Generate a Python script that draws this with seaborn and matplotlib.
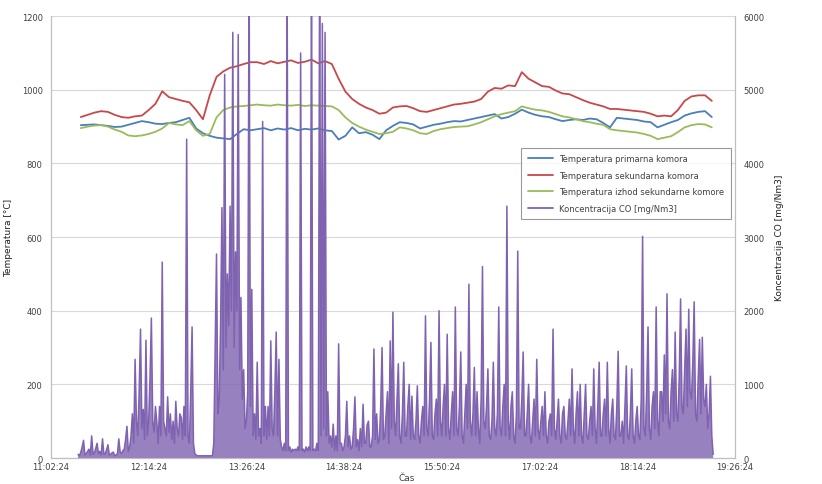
import numpy as np
import pandas as pd
import matplotlib
matplotlib.use("Agg")
import matplotlib.pyplot as plt
import seaborn as sns

# ---------------------------------------------------------------
# DATA

# x axis: minutes after 11:02:24
tick_minutes = [0, 72, 144, 216, 288, 360, 432, 504]
tick_labels = ['11:02:24', '12:14:24', '13:26:24', '14:38:24',
               '15:50:24', '17:02:24', '18:14:24', '19:26:24']

# temperatures sampled every 5 min starting at minute 22
temp_start, temp_step = 22, 5
t_primary = [904, 905, 906, 904, 902, 899, 900, 905, 910, 915,
             912, 908, 907, 910, 912, 918, 924, 895, 882, 875,
             870, 868, 866, 880, 893, 890, 893, 896, 890, 895,
             892, 896, 890, 894, 892, 895, 890, 888, 865, 875,
             898, 882, 885, 878, 866, 890, 902, 912, 910, 906,
             895, 900, 905, 908, 912, 915, 914, 918, 922, 926,
             930, 934, 922, 926, 935, 946, 938, 932, 928, 926,
             920, 915, 918, 920, 918, 922, 920, 910, 898, 924,
             922, 920, 918, 914, 912, 898, 905, 912, 918, 930,
             936, 940, 942, 926]
t_secondary = [926, 932, 938, 942, 940, 932, 926, 924, 928, 930,
               945, 962, 996, 980, 975, 970, 966, 945, 920, 985,
               1035, 1050, 1060, 1064, 1070, 1075, 1075, 1070, 1078, 1072,
               1076, 1080, 1073, 1076, 1082, 1072, 1078, 1070, 1030, 995,
               975, 962, 952, 945, 935, 938, 952, 955, 956, 950,
               942, 940, 945, 950, 955, 960, 962, 965, 968, 975,
               995, 1005, 1003, 1012, 1010, 1048, 1030, 1020, 1010, 1008,
               998, 990, 988, 980, 972, 965, 960, 955, 948, 948,
               946, 944, 942, 940, 935, 928, 930, 928, 945, 970,
               982, 985, 985, 970]
t_outlet = [896, 900, 903, 904, 900, 892, 886, 876, 874, 876,
            880, 886, 895, 910, 906, 904, 915, 890, 875, 880,
            925, 945, 952, 955, 956, 958, 960, 958, 957, 960,
            958, 957, 959, 956, 958, 957, 956, 955, 945, 925,
            910, 900, 892, 886, 880, 882, 886, 898, 895, 890,
            882, 880, 888, 893, 896, 899, 900, 901, 906, 912,
            920, 928, 934, 938, 942, 955, 950, 946, 944, 940,
            934, 928, 925, 920, 915, 912, 908, 905, 893, 890,
            888, 886, 884, 880, 875, 866, 870, 874, 885, 898,
            904, 907, 906, 898]

# CO concentration sampled every minute starting at minute 20
co_start, co_step = 20, 1
co = [50, 30, 80, 150, 240, 40, 60, 90, 120, 40,
      300, 50, 70, 130, 200, 60, 90, 40, 260, 50,
      60, 110, 180, 40, 50, 70, 80, 30, 40, 60,
      260, 80, 60, 100, 120, 250, 430, 90, 150, 300,
      600, 200, 1340, 500, 300, 900, 1750, 400, 660, 250,
      1600, 300, 500, 1100, 1900, 500, 350, 700, 490, 200,
      700, 300, 2660, 500, 400, 300, 830, 350, 600, 250,
      500, 200, 770, 400, 300, 600, 550, 250, 700, 300,
      4330, 300, 200, 900, 1780, 200, 60, 40, 30, 30,
      30, 30, 30, 30, 30, 30, 30, 30, 30, 30,
      200, 1500, 2770, 600, 800, 1800, 3400, 1200, 5210, 1500,
      2500, 1800, 3420, 2000, 5780, 1500, 2800, 2000, 5750, 1200,
      2180, 800, 1200, 400, 500, 900, 6800, 700, 2290, 300,
      600, 250, 1300, 300, 400, 200, 4570, 300, 700, 250,
      700, 300, 1590, 400, 300, 900, 1710, 300, 1340, 250,
      150, 100, 200, 100, 6800, 100, 150, 80, 120, 100,
      120, 100, 150, 100, 5500, 100, 120, 80, 150, 100,
      150, 100, 6800, 100, 120, 100, 200, 100, 6800, 300,
      5900, 400, 5780, 300, 900, 200, 300, 150, 460, 100,
      300, 100, 1550, 200, 200, 100, 150, 300, 770, 150,
      300, 120, 150, 400, 830, 150, 250, 100, 400, 150,
      730, 200, 200, 450, 500, 150, 150, 300, 1480, 250,
      600, 200, 250, 700, 1500, 250, 300, 600, 900, 200,
      1590, 400, 1980, 500, 300, 800, 1280, 300, 200, 600,
      1300, 300, 300, 700, 1000, 250, 840, 300, 250, 500,
      980, 300, 200, 500, 700, 300, 1930, 400, 300, 800,
      1570, 300, 250, 600, 800, 300, 2000, 500, 300, 700,
      1000, 300, 1680, 400, 250, 600, 900, 300, 2050, 400,
      300, 700, 1440, 300, 200, 600, 1000, 400, 2360, 500,
      300, 600, 1230, 300, 900, 400, 200, 800, 2600, 500,
      400, 700, 1210, 300, 250, 500, 1300, 400, 300, 600,
      2050, 400, 300, 700, 1000, 300, 3420, 500, 250, 700,
      900, 300, 200, 600, 2810, 400, 400, 800, 1440, 300,
      300, 600, 1000, 300, 200, 500, 800, 300, 1340, 400,
      250, 500, 700, 300, 900, 300, 200, 500, 600, 300,
      1750, 400, 250, 500, 800, 300, 200, 600, 700, 300,
      250, 500, 800, 300, 1210, 400, 200, 600, 900, 300,
      1000, 300, 200, 600, 1000, 300, 250, 500, 700, 300,
      1210, 400, 200, 700, 1300, 300, 300, 600, 800, 300,
      1300, 400, 200, 600, 800, 300, 250, 700, 1450, 300,
      300, 500, 200, 700, 1250, 300, 250, 600, 1210, 300,
      200, 500, 700, 300, 250, 800, 3010, 400, 300, 900,
      1780, 400, 250, 700, 900, 400, 2050, 500, 300, 900,
      900, 500, 1400, 600, 2230, 500, 400, 900, 1200, 500,
      1710, 600, 500, 1100, 2160, 700, 600, 1200, 1750, 700,
      2020, 900, 800, 1300, 2120, 600, 500, 1100, 1610, 600,
      1640, 800, 700, 1000, 400, 600, 1110, 300, 50]

temp_minutes = temp_start + temp_step * np.arange(len(t_primary))
co_minutes = co_start + co_step * np.arange(len(co))

# ---------------------------------------------------------------
# PLOT

sns.set_style("white")
plt.rcParams['font.family'] = ['DejaVu Sans']

fig = plt.figure(figsize=(8.22, 4.85), dpi=100)
ax = fig.add_axes([0.062, 0.0536, 0.832, 0.911])
ax2 = ax.twinx()

blue, red, green, purple = '#4a7ebb', '#c8484a', '#9bbb59', '#7f62b0'

sns.lineplot(x=temp_minutes, y=t_primary, ax=ax, color=blue, linewidth=1.3)
sns.lineplot(x=temp_minutes, y=t_secondary, ax=ax, color=red, linewidth=1.3)
sns.lineplot(x=temp_minutes, y=t_outlet, ax=ax, color=green, linewidth=1.3)
# the CO trace is so dense in the original that the area under it reads as solid
ax2.fill_between(co_minutes, co, color=purple, alpha=0.8, linewidth=0)
sns.lineplot(x=co_minutes, y=co, ax=ax2, color=purple, linewidth=1.1)

ax.set_xlim(0, 504)
ax.set_ylim(0, 1200)
ax2.set_ylim(0, 6000)
ax.set_yticks(range(0, 1201, 200))
ax2.set_yticks(range(0, 6001, 1000))
ax.set_xticks(tick_minutes)
ax.set_xticklabels(tick_labels)

ax.grid(axis='y', color='#d9d9d9', linewidth=0.8)
ax.grid(axis='x', visible=False)
ax2.grid(False)

for a in (ax, ax2):
    for s in a.spines.values():
        s.set_color('#bfbfbf')
        s.set_linewidth(0.8)
    a.spines['top'].set_visible(False)
    a.tick_params(labelsize=6, colors='#404040', length=0, pad=6)
    a.tick_params(axis='y', which='both', left=False, right=False)
ax.tick_params(axis='x', pad=3)

ax.set_xlabel('Čas', fontsize=6.5, color='#404040')
ax.xaxis.set_label_coords(0.52, -0.035)
ax.set_ylabel('Temperatura [°C]', fontsize=6.5, color='#202020', labelpad=6)
ax2.set_ylabel('Koncentracija CO [mg/Nm3]', fontsize=6.5, color='#202020', labelpad=8)

handles = [plt.Line2D([], [], color=blue, lw=1.3),
           plt.Line2D([], [], color=red, lw=1.3),
           plt.Line2D([], [], color=green, lw=1.3),
           plt.Line2D([], [], color=purple, lw=1.3)]
names = ['Temperatura primarna komora', 'Temperatura sekundarna komora',
         'Temperatura izhod sekundarne komore', 'Koncentracija CO [mg/Nm3]']
leg = ax2.legend(handles, names, loc='upper left', bbox_to_anchor=(0.681, 0.712),
                 fontsize=6, frameon=True, fancybox=False, handlelength=3,
                 labelspacing=0.9, borderpad=0.8)
leg.get_frame().set_edgecolor('#808080')
leg.get_frame().set_linewidth(0.8)
for txt in leg.get_texts():
    txt.set_color('#404040')

fig.savefig('out.png', dpi=100)
